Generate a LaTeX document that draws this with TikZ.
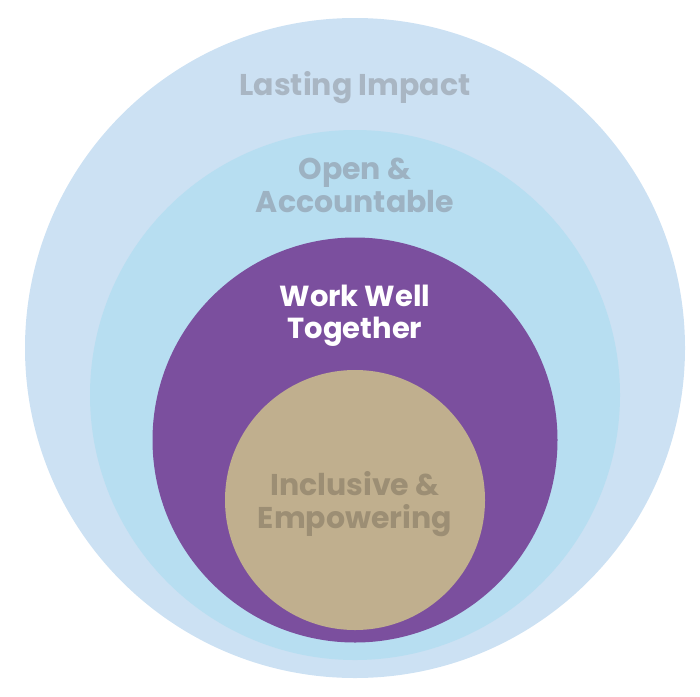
\documentclass[tikz,border=0pt]{standalone}
\usepackage{fontspec}
\setmainfont{Poppins}[BoldFont={* Bold}]
\definecolor{c1}{HTML}{CCE1F3}
\definecolor{c2}{HTML}{B7DEF1}
\definecolor{c3}{HTML}{7B4F9E}
\definecolor{c4}{HTML}{C0AF8E}
\definecolor{t1}{HTML}{A9B6C3}
\definecolor{t2}{HTML}{9DB2C2}
\definecolor{t4}{HTML}{9C8E74}
\begin{document}
\begin{tikzpicture}[x=1pt,y=-1pt,
  lab/.style={font=\bfseries\fontsize{30}{33}\selectfont,align=center,inner sep=0pt}]
\useasboundingbox (0,0) rectangle (700,696);
\node[circle,fill=c1,minimum size=660pt,inner sep=0pt] (o1) at (355,348) {};
\node[circle,fill=c2,minimum size=530pt,inner sep=0pt] (o2) at (355,395) {};
\node[circle,fill=c3,minimum size=405pt,inner sep=0pt] (o3) at (355,440) {};
\node[circle,fill=c4,minimum size=260pt,inner sep=0pt] (o4) at (355,500) {};
\node[lab,text=t1] (l1) at (355,88) {Lasting Impact};
\node[lab,text=t2] (l2) at (355,185) {Open \&\\Accountable};
\node[lab,text=white,font=\bfseries\fontsize{29}{32}\selectfont] (l3) at (355,316) {Work Well\\Together};
\node[lab,text=t4] (l4) at (355,504) {Inclusive \&\\Empowering};
\end{tikzpicture}
\end{document}
